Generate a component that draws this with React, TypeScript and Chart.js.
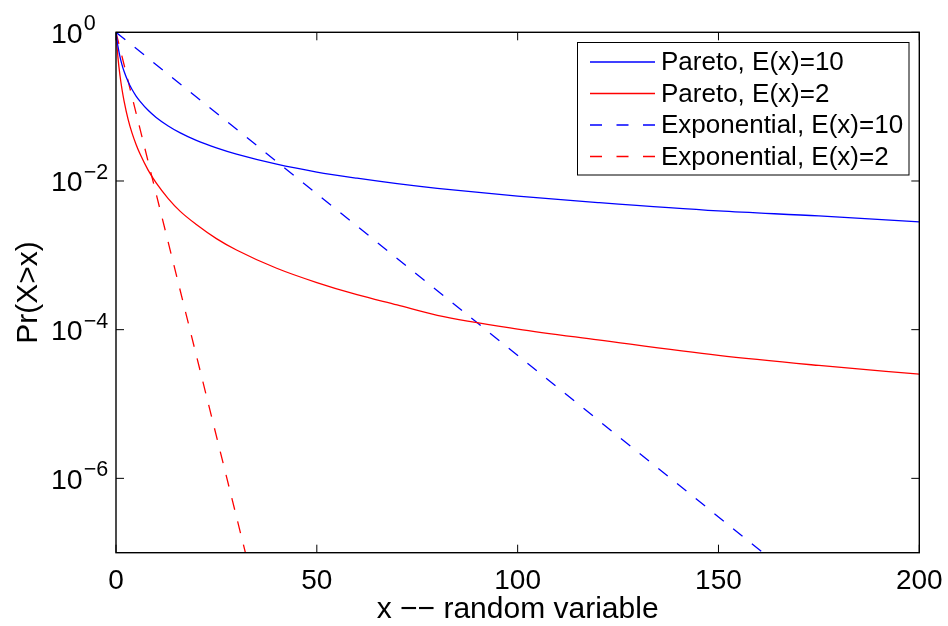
import { useEffect, useRef } from "react";
import { Chart, registerables } from "chart.js";

Chart.register(...registerables);

// ---- data ----
const xPareto = [0, 0.5, 1, 1.5, 2, 3, 4, 5, 6, 8, 10, 13, 16, 20, 25, 30, 40, 50, 60, 70, 80, 100, 120, 150, 175, 200];
const paretoMean10 = [1, 0.64, 0.467, 0.365, 0.299, 0.218, 0.17, 0.139, 0.118, 0.0892, 0.0715, 0.0549, 0.0443, 0.0351, 0.0278, 0.0229, 0.0168, 0.0132, 0.0109, 0.0092, 0.00796, 0.00624, 0.00512, 0.00395, 0.00339, 0.00282];
const paretoMean2 = [1, 0.45, 0.26, 0.17, 0.12, 0.068, 0.044, 0.031, 0.023, 0.014, 0.0094, 0.0058, 0.0039, 0.0026, 0.00168, 0.00118, 0.00067, 0.00043, 0.000295, 0.000215, 0.000156, 0.000102, 0.000073, 0.000045, 0.000033, 0.0000252];
const xExpMean10 = [0, 170];
const expMean10 = [1, 4.1e-8];
const xExpMean2 = [0, 34];
const expMean2 = [1, 4.1e-8];

const xTicks = [0, 50, 100, 150, 200];
const yTickExponents = [0, -2, -4, -6];
const seriesLabels = ["Pareto, E(x)=10", "Pareto, E(x)=2", "Exponential, E(x)=10", "Exponential, E(x)=2"];
const xTitle = "x \u2212\u2212 random variable";
const yTitle = "Pr(X>x)";

const FONT = '"Liberation Sans", Arial, Helvetica, sans-serif';

const toPoints = (xs: number[], ys: number[]) => xs.map((x, i) => ({ x, y: ys[i] }));

const matlabAxes = {
  id: "matlabAxes",
  afterDraw(chart: any) {
    const ctx: CanvasRenderingContext2D = chart.ctx;
    const { left, top, right, bottom } = chart.chartArea;
    const xs = chart.scales.x;
    const ys = chart.scales.y;
    ctx.save();
    ctx.setLineDash([]);
    ctx.strokeStyle = "#000";
    ctx.fillStyle = "#000";

    // ticks
    ctx.lineWidth = 1;
    const tl = 8;
    xTicks.forEach((v) => {
      const px = xs.getPixelForValue(v);
      ctx.beginPath();
      ctx.moveTo(px, bottom);
      ctx.lineTo(px, bottom - tl);
      ctx.moveTo(px, top);
      ctx.lineTo(px, top + tl);
      ctx.stroke();
    });
    yTickExponents.forEach((e) => {
      const py = ys.getPixelForValue(Math.pow(10, e));
      ctx.beginPath();
      ctx.moveTo(left, py);
      ctx.lineTo(left + tl, py);
      ctx.moveTo(right, py);
      ctx.lineTo(right - tl, py);
      ctx.stroke();
    });

    // box
    ctx.lineWidth = 1.4;
    ctx.strokeRect(left, top, right - left, bottom - top);

    // x tick labels
    ctx.font = `28px ${FONT}`;
    ctx.textAlign = "center";
    ctx.textBaseline = "alphabetic";
    xTicks.forEach((v) => {
      const px = xs.getPixelForValue(v);
      ctx.fillText(String(v), px, 589);
    });

    // y tick labels 10^e
    yTickExponents.forEach((e) => {
      const py = ys.getPixelForValue(Math.pow(10, e));
      ctx.textAlign = "left";
      ctx.font = `28.5px ${FONT}`;
      const base = "10";
      ctx.fillText(base, 51, py + 10.5);
      const w = ctx.measureText(base).width;
      ctx.font = `21.5px ${FONT}`;
      const expText = e < 0 ? "\u2212" + String(-e) : String(e);
      ctx.fillText(expText, 51 + w + 1, py - 2);
    });

    // axis titles
    ctx.font = `30px ${FONT}`;
    ctx.textAlign = "center";
    ctx.fillText(xTitle, (left + right) / 2, 618);
    ctx.save();
    ctx.translate(36.5, (top + bottom) / 2);
    ctx.rotate(-Math.PI / 2);
    ctx.fillText(yTitle, 0, 0);
    ctx.restore();

    // legend
    const lx = 577.5, ly = 42.5, lw = 331.5, lh = 132.5;
    ctx.fillStyle = "#fff";
    ctx.fillRect(lx, ly, lw, lh);
    ctx.strokeStyle = "#000";
    ctx.lineWidth = 1;
    ctx.strokeRect(lx, ly, lw, lh);
    ctx.font = `26px ${FONT}`;
    ctx.textAlign = "left";
    ctx.textBaseline = "middle";
    chart.data.datasets.forEach((ds: any, i: number) => {
      const cy = 62 + i * 31.5;
      ctx.strokeStyle = ds.borderColor;
      ctx.lineWidth = 1.3;
      ctx.setLineDash(ds.borderDash && ds.borderDash.length ? [12, 14.5] : []);
      ctx.beginPath();
      ctx.moveTo(590, cy);
      ctx.lineTo(655, cy);
      ctx.stroke();
      ctx.setLineDash([]);
      ctx.fillStyle = "#000";
      ctx.fillText(ds.label, 661, cy + 1);
    });
    ctx.restore();
  },
};

export default function App() {
  const ref = useRef<HTMLCanvasElement | null>(null);
  useEffect(() => {
    if (!ref.current) return;
    const chart = new Chart(ref.current, {
      type: "line",
      data: {
        datasets: [
          {
            label: seriesLabels[0],
            data: toPoints(xPareto, paretoMean10),
            borderColor: "#0000ff",
            borderWidth: 1.3,
            pointRadius: 0,
            cubicInterpolationMode: "monotone",
            fill: false,
          },
          {
            label: seriesLabels[1],
            data: toPoints(xPareto, paretoMean2),
            borderColor: "#ff0000",
            borderWidth: 1.3,
            pointRadius: 0,
            cubicInterpolationMode: "monotone",
            fill: false,
          },
          {
            label: seriesLabels[2],
            data: toPoints(xExpMean10, expMean10),
            borderColor: "#0000ff",
            borderWidth: 1.3,
            borderDash: [12, 12],
            pointRadius: 0,
            fill: false,
          },
          {
            label: seriesLabels[3],
            data: toPoints(xExpMean2, expMean2),
            borderColor: "#ff0000",
            borderWidth: 1.3,
            borderDash: [12, 12],
            pointRadius: 0,
            fill: false,
          },
        ],
      },
      options: {
        animation: false,
        responsive: true,
        maintainAspectRatio: false,
        parsing: false as any,
        layout: { padding: { left: 116, top: 32.3, right: 28.7, bottom: 73.3 } },
        plugins: { legend: { display: false }, tooltip: { enabled: false }, title: { display: false } },
        events: [],
        scales: {
          x: { type: "linear", display: false, min: 0, max: 200 },
          y: { type: "logarithmic", display: false, min: 1e-7, max: 1 },
        },
      },
      plugins: [matlabAxes],
    });
    return () => chart.destroy();
  }, []);
  return (
    <div style={{ position: "fixed", left: 0, top: 0, width: 948, height: 626, background: "#fff" }}>
      <canvas ref={ref} />
    </div>
  );
}
